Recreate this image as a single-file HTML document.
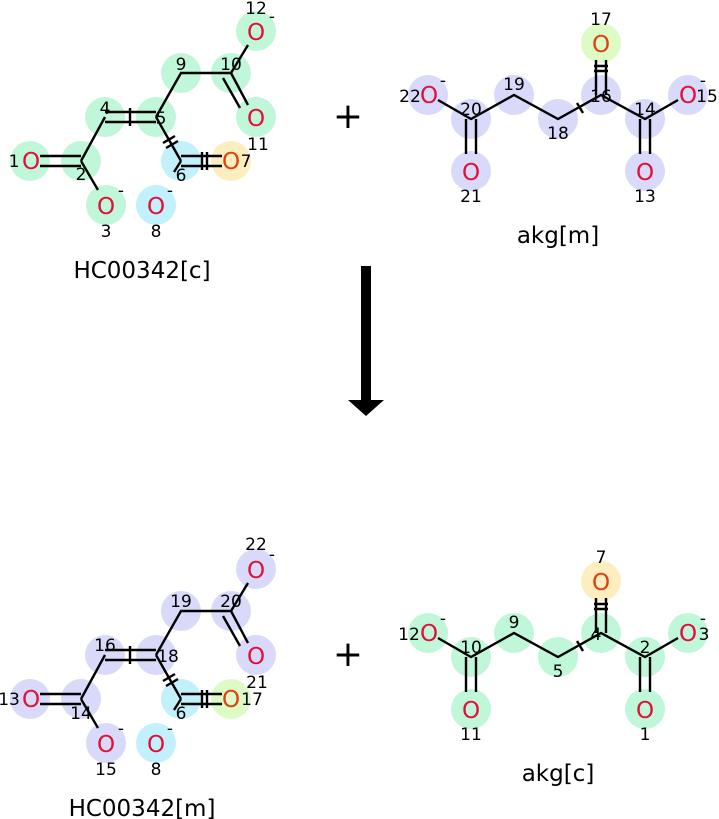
<!DOCTYPE html>
<html><head><meta charset="utf-8"><style>
html,body{margin:0;padding:0;background:#fff;}
svg{display:block;font-family:"DejaVu Sans","Liberation Sans",sans-serif;}
.b{stroke:#000;stroke-width:2.4;fill:none;}
.o{font-size:23px;fill:#e0103a;text-anchor:middle;}
.oo{font-size:23px;fill:#e04010;text-anchor:middle;}
.n{font-size:17px;fill:#000;text-anchor:middle;}
.t{font-size:23px;fill:#000;text-anchor:middle;}
</style></head><body>
<svg width="719" height="819" viewBox="0 0 719 819" xmlns="http://www.w3.org/2000/svg">
<g>
<g fill="#c0f7d9">
<circle cx="30" cy="161" r="20"/><circle cx="81" cy="161" r="20"/><circle cx="106" cy="205" r="20"/>
<circle cx="105" cy="117" r="20"/><circle cx="156" cy="117" r="20"/><circle cx="181" cy="73" r="20"/>
<circle cx="231" cy="73" r="20"/><circle cx="256" cy="117" r="20"/><circle cx="256" cy="31" r="20"/>
</g>
<circle cx="181" cy="161" r="20" fill="#c2f0fb"/><circle cx="156" cy="205" r="20" fill="#c2f0fb"/>
<circle cx="231" cy="161" r="20" fill="#fdeebf"/>
<g class="b">
<path d="M40 156H81M40 166H81"/><path d="M81 161L105 117M81 161L98 190"/>
<path d="M105 112H156M105 122H156M130 108V126"/>
<path d="M156 117L181 73H231L248 45M231 73L248 105M223 78L240 108"/>
<path d="M156 117L181 161M163 143L175 136M166 148L178 141"/>
<path d="M181 156H222M181 166H222M202 152V170M207 152V170"/>
<path d="M181 161L174 172"/>
</g>
<text class="o" x="31" y="169">O</text><text class="n" x="14" y="167">1</text>
<text class="n" x="81" y="180">2</text>
<text class="o" x="106" y="214">O</text><text class="n" x="121" y="196">-</text><text class="n" x="106" y="237">3</text>
<text class="n" x="105" y="114">4</text><text class="n" x="161" y="124">5</text>
<text class="n" x="181" y="181">6</text>
<text class="oo" x="231" y="169">O</text><text class="n" x="246" y="167">7</text>
<text class="o" x="156" y="214">O</text><text class="n" x="170" y="196">-</text><text class="n" x="156" y="237">8</text>
<text class="n" x="181" y="70">9</text><text class="n" x="231" y="70">10</text>
<text class="o" x="256" y="126">O</text><text class="n" x="258" y="150">11</text>
<text class="o" x="256" y="40">O</text><text class="n" x="256" y="14">12</text><text class="n" x="272" y="22">-</text>
<text class="t" x="142" y="278">HC00342[c]</text>
</g>
<g>
<g fill="#d9daf9">
<circle cx="428" cy="95" r="20"/><circle cx="471" cy="119" r="20"/><circle cx="514" cy="95" r="20"/>
<circle cx="558" cy="119" r="20"/><circle cx="601" cy="95" r="20"/><circle cx="645" cy="119" r="20"/>
<circle cx="688" cy="95" r="20"/><circle cx="471" cy="171" r="20"/><circle cx="645" cy="171" r="20"/>
</g>
<circle cx="601" cy="43" r="20" fill="#dcfbc5"/>
<g class="b">
<path d="M438 100L471 119L514 95L558 119L601 95L645 119L678 100"/>
<path d="M466 119V154M476 119V154M640 119V154M650 119V154"/>
<path d="M596 95V60M606 95V60M594 66H608M594 71H608"/>
<path d="M577 103L583 113"/>
</g>
<text class="o" x="429" y="103">O</text><text class="n" x="410" y="102">22</text><text class="n" x="443" y="86">-</text>
<text class="n" x="471" y="115">20</text><text class="n" x="514" y="90">19</text><text class="n" x="558" y="139">18</text>
<text class="n" x="601" y="102">16</text><text class="n" x="645" y="115">14</text>
<text class="o" x="688" y="103">O</text><text class="n" x="707" y="102">15</text><text class="n" x="703" y="86">-</text>
<text class="o" x="471" y="180">O</text><text class="n" x="471" y="202">21</text>
<text class="o" x="645" y="180">O</text><text class="n" x="645" y="202">13</text>
<text class="oo" x="601" y="52">O</text><text class="n" x="601" y="25">17</text>
<text class="t" x="558" y="243">akg[m]</text>
</g>
<text x="348" y="128" font-size="36" text-anchor="middle">+</text>
<text x="348" y="666" font-size="36" text-anchor="middle">+</text>
<rect x="361" y="266" width="10" height="136" fill="#000"/>
<path d="M348 400H384L366 416Z" fill="#000"/>
<g transform="translate(0,538)">
<g fill="#d9daf9">
<circle cx="30" cy="161" r="20"/><circle cx="81" cy="161" r="20"/><circle cx="106" cy="205" r="20"/>
<circle cx="105" cy="117" r="20"/><circle cx="156" cy="117" r="20"/><circle cx="181" cy="73" r="20"/>
<circle cx="231" cy="73" r="20"/><circle cx="256" cy="117" r="20"/><circle cx="256" cy="31" r="20"/>
</g>
<circle cx="181" cy="161" r="20" fill="#c2f0fb"/><circle cx="156" cy="205" r="20" fill="#c2f0fb"/>
<circle cx="231" cy="161" r="20" fill="#dcfbc5"/>
<g class="b">
<path d="M40 156H81M40 166H81"/><path d="M81 161L105 117M81 161L98 190"/>
<path d="M105 112H156M105 122H156M130 108V126"/>
<path d="M156 117L181 73H231L248 45M231 73L248 105M223 78L240 108"/>
<path d="M156 117L181 161M163 143L175 136M166 148L178 141"/>
<path d="M181 156H222M181 166H222M202 152V170M207 152V170"/>
<path d="M181 161L174 172"/>
</g>
<text class="o" x="31" y="169">O</text><text class="n" x="9" y="167">13</text>
<text class="n" x="81" y="181">14</text>
<text class="o" x="106" y="214">O</text><text class="n" x="121" y="196">-</text><text class="n" x="106" y="237">15</text>
<text class="n" x="105" y="113">16</text><text class="n" x="168" y="124">18</text>
<text class="n" x="181" y="181">6</text>
<text class="oo" x="231" y="169">O</text><text class="n" x="252" y="167">17</text>
<text class="o" x="156" y="214">O</text><text class="n" x="170" y="196">-</text><text class="n" x="156" y="237">8</text>
<text class="n" x="181" y="69">19</text><text class="n" x="231" y="69">20</text>
<text class="o" x="256" y="126">O</text><text class="n" x="257" y="150">21</text>
<text class="o" x="256" y="40">O</text><text class="n" x="256" y="12">22</text><text class="n" x="272" y="22">-</text>
<text class="t" x="142" y="278">HC00342[m]</text>
</g>
<g transform="translate(0,538)">
<g fill="#c0f7d9">
<circle cx="428" cy="95" r="20"/><circle cx="471" cy="119" r="20"/><circle cx="514" cy="95" r="20"/>
<circle cx="558" cy="119" r="20"/><circle cx="601" cy="95" r="20"/><circle cx="645" cy="119" r="20"/>
<circle cx="688" cy="95" r="20"/><circle cx="471" cy="171" r="20"/><circle cx="645" cy="171" r="20"/>
</g>
<circle cx="601" cy="43" r="20" fill="#fdeebf"/>
<g class="b">
<path d="M438 100L471 119L514 95L558 119L601 95L645 119L678 100"/>
<path d="M466 119V154M476 119V154M640 119V154M650 119V154"/>
<path d="M596 95V60M606 95V60M594 66H608M594 71H608"/>
<path d="M577 103L583 113"/>
</g>
<text class="o" x="429" y="103">O</text><text class="n" x="409" y="102">12</text><text class="n" x="443" y="86">-</text>
<text class="n" x="471" y="115">10</text><text class="n" x="514" y="90">9</text><text class="n" x="558" y="139">5</text>
<text class="n" x="596" y="102">4</text><text class="n" x="645" y="115">2</text>
<text class="o" x="688" y="103">O</text><text class="n" x="704" y="102">3</text><text class="n" x="703" y="86">-</text>
<text class="o" x="471" y="180">O</text><text class="n" x="471" y="202">11</text>
<text class="o" x="645" y="180">O</text><text class="n" x="645" y="202">1</text>
<text class="oo" x="601" y="52">O</text><text class="n" x="601" y="25">7</text>
<text class="t" x="558" y="243">akg[c]</text>
</g>
</svg>
</body></html>
